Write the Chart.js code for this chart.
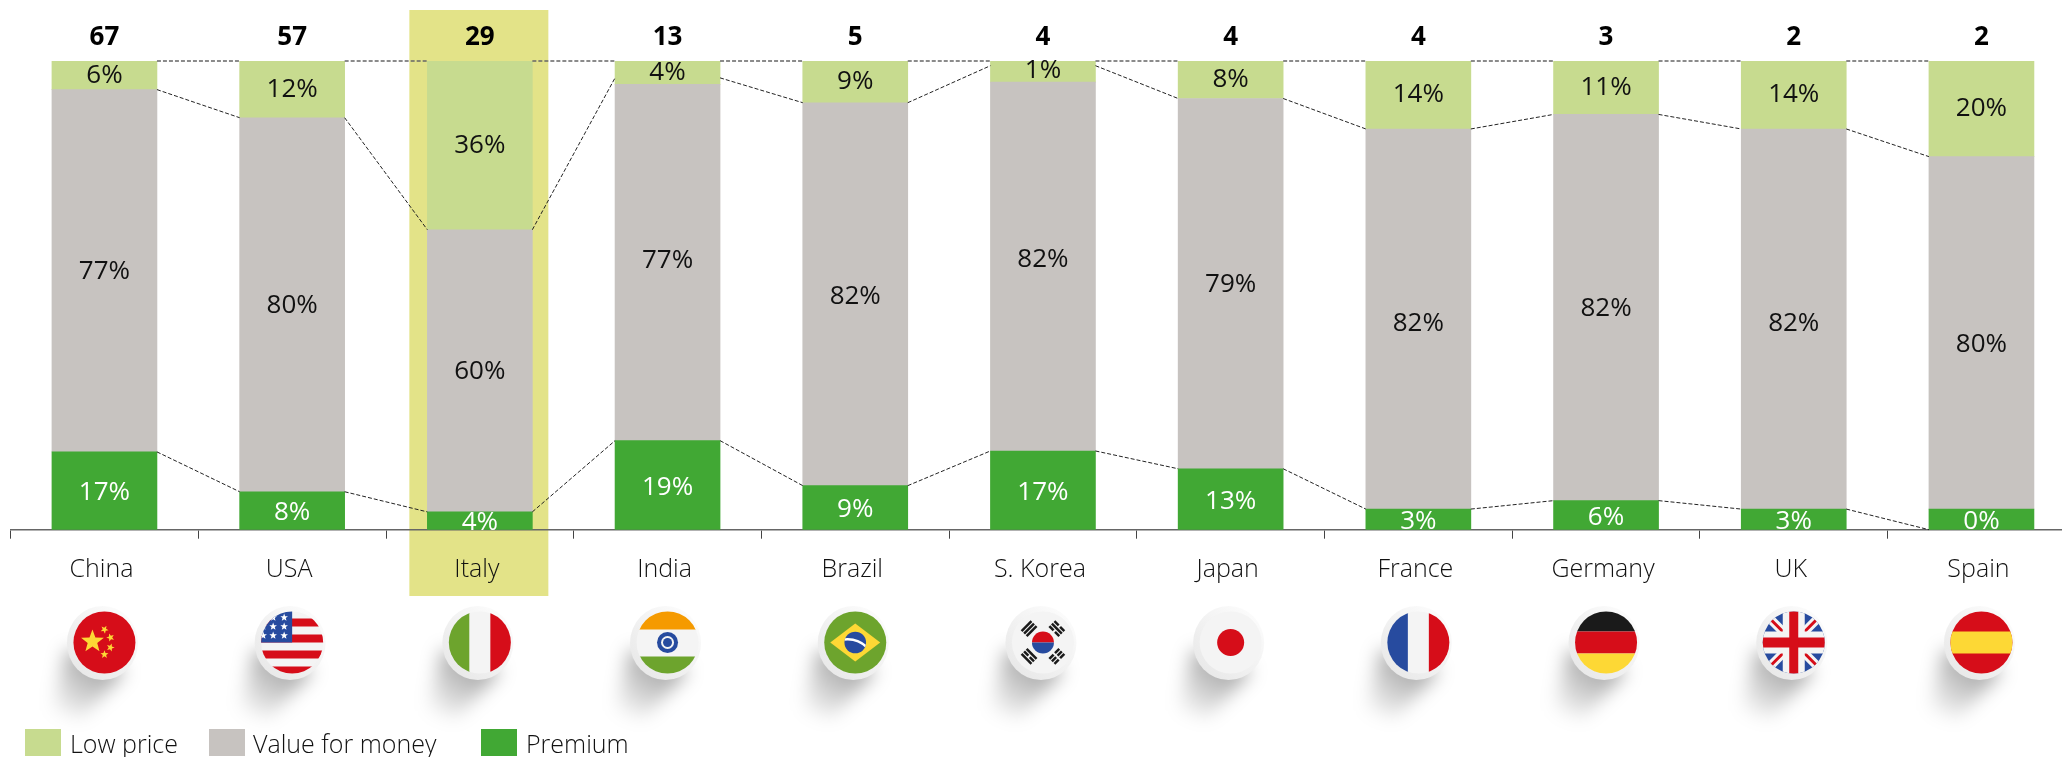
<!DOCTYPE html>
<html>
<head>
<meta charset="utf-8">
<title>Purchase drivers by country</title>
<script src="https://cdn.jsdelivr.net/npm/chart.js@4"></script>
<style>
  html, body { margin: 0; padding: 0; background: #fff; overflow: hidden; }
  #wrap { width: 2062px; height: 757px; overflow: hidden; }
</style>
</head>
<body>
<div id="wrap"><canvas id="chart" width="2100" height="757"></canvas></div>
<script>
const countries = ['China', 'USA', 'Italy', 'India', 'Brazil', 'S. Korea', 'Japan', 'France', 'Germany', 'UK', 'Spain'];
const totals = [67, 57, 29, 13, 5, 4, 4, 4, 3, 2, 2];

// bar heights as they are drawn in the picture (small shares are drawn a bit taller)
const lowPrice = [6.1, 12.1, 36, 5, 8.9, 4.7, 8, 14.5, 11.4, 14.5, 20.4];
const valueForMoney = [77.3, 79.8, 60.2, 76, 81.7, 78.7, 79, 81.1, 82.4, 81.1, 75.2];
const premium = [16.6, 8.1, 3.8, 19, 9.4, 16.8, 13, 4.4, 6.2, 4.4, 4.4];

// printed percentages
const lowPriceText = [6, 12, 36, 4, 9, 1, 8, 14, 11, 14, 20];
const valueText = [77, 80, 60, 77, 82, 82, 79, 82, 82, 82, 80];
const premiumText = [17, 8, 4, 19, 9, 17, 13, 3, 6, 3, 0];

// where the dashed connectors meet each bar (share from the top / from the bottom)
const lowPriceLink = [6.1, 12.1, 36, 3.6, 8.9, 1, 8, 14.5, 11.4, 14.5, 20.4];
const premiumLink = [16.6, 8.1, 3.8, 19, 9.4, 16.8, 13, 4.4, 6.2, 4.4, 0];

const highlighted = 'Italy';

const GREEN_LIGHT = '#c7db8f';
const GREY = '#c7c3c0';
const GREEN = '#41a834';
const HIGHLIGHT = '#e3e388';
const FONT = '"Open Sans"';
const BAR_WIDTH = 105;

const RED = '#d60d19', BLUE = '#274b9f', YELLOW = '#fdd835', FLAG_GREEN = '#6da42d', WHITE = '#f4f4f4', BLACK = '#1a1a1a', ORANGE = '#f59a00';

function star(ctx, x, y, r, rot) {
  ctx.beginPath();
  for (var i = 0; i < 10; i++) {
    var a = -Math.PI / 2 + (rot || 0) + i * Math.PI / 5;
    var d = i % 2 ? r * 0.42 : r;
    ctx.lineTo(x + Math.cos(a) * d, y + Math.sin(a) * d);
  }
  ctx.closePath();
  ctx.fill();
}

function rect(ctx, color, x, y, w, h) {
  ctx.fillStyle = color;
  ctx.fillRect(x, y, w, h);
}

function disc(ctx, color, x, y, r) {
  ctx.fillStyle = color;
  ctx.beginPath();
  ctx.arc(x, y, r, 0, Math.PI * 2);
  ctx.fill();
}

function trigram(ctx, angle, pattern) {
  ctx.save();
  ctx.rotate(angle);
  pattern.forEach(function (broken, i) {
    var y = -24.5 + i * 3.6;
    if (broken) {
      rect(ctx, BLACK, -7, y, 6, 2.5);
      rect(ctx, BLACK, 1, y, 6, 2.5);
    } else {
      rect(ctx, BLACK, -7, y, 14, 2.5);
    }
  });
  ctx.restore();
}

const flags = {
  'China': function (ctx) {
    rect(ctx, RED, -32, -32, 64, 64);
    ctx.fillStyle = YELLOW;
    star(ctx, -12, -1, 12);
    star(ctx, 0, -13, 4.2, 0.5);
    star(ctx, 6, -5, 4.2, 0.9);
    star(ctx, 6, 5, 4.2, 0.3);
    star(ctx, 0, 12, 4.2, 0);
  },
  'USA': function (ctx) {
    rect(ctx, WHITE, -32, -32, 64, 64);
    [-24, -8, 8, 24].forEach(function (y) { rect(ctx, RED, -32, y, 64, 8); });
    rect(ctx, BLUE, -32, -32, 32, 32);
    ctx.fillStyle = '#fff';
    [-25, -16, -7].forEach(function (y) {
      [-19, -8].forEach(function (x) { star(ctx, x, y, 4); });
    });
    star(ctx, -29, -7, 4);
    star(ctx, -29, -16, 4);
  },
  'Italy': function (ctx) {
    rect(ctx, FLAG_GREEN, -32, -32, 22, 64);
    rect(ctx, WHITE, -10.5, -32, 21, 64);
    rect(ctx, RED, 10.5, -32, 22, 64);
  },
  'India': function (ctx) {
    rect(ctx, WHITE, -32, -32, 64, 64);
    rect(ctx, ORANGE, -32, -32, 64, 19);
    rect(ctx, FLAG_GREEN, -32, 14, 64, 18);
    disc(ctx, BLUE, 0, 0, 10.5);
    disc(ctx, WHITE, 0, 0, 6.5);
    disc(ctx, BLUE, 0, 0, 4.5);
  },
  'Brazil': function (ctx) {
    rect(ctx, FLAG_GREEN, -32, -32, 64, 64);
    ctx.fillStyle = YELLOW;
    ctx.beginPath();
    ctx.moveTo(-25, 0);
    ctx.lineTo(0, -19);
    ctx.lineTo(25, 0);
    ctx.lineTo(0, 19);
    ctx.closePath();
    ctx.fill();
    disc(ctx, BLUE, 0, 0, 10.8);
    ctx.save();
    ctx.beginPath();
    ctx.arc(0, 0, 10.8, 0, Math.PI * 2);
    ctx.clip();
    ctx.strokeStyle = '#fff';
    ctx.lineWidth = 2.5;
    ctx.beginPath();
    ctx.moveTo(-12, -3);
    ctx.quadraticCurveTo(2, -5, 12, 5);
    ctx.stroke();
    ctx.restore();
  },
  'S. Korea': function (ctx) {
    rect(ctx, WHITE, -32, -32, 64, 64);
    ctx.fillStyle = RED;
    ctx.beginPath();
    ctx.arc(0, 0, 11, Math.PI, 0);
    ctx.fill();
    ctx.fillStyle = BLUE;
    ctx.beginPath();
    ctx.arc(0, 0, 11, 0, Math.PI);
    ctx.fill();
    trigram(ctx, -Math.PI / 4, [false, false, false]);
    trigram(ctx, Math.PI / 4, [true, false, true]);
    trigram(ctx, -3 * Math.PI / 4, [false, true, false]);
    trigram(ctx, 3 * Math.PI / 4, [true, true, true]);
  },
  'Japan': function (ctx) {
    rect(ctx, WHITE, -32, -32, 64, 64);
    disc(ctx, RED, 0, 0, 13.5);
  },
  'France': function (ctx) {
    rect(ctx, BLUE, -32, -32, 22, 64);
    rect(ctx, WHITE, -10.5, -32, 21, 64);
    rect(ctx, RED, 10.5, -32, 22, 64);
  },
  'Germany': function (ctx) {
    rect(ctx, BLACK, -32, -32, 64, 21);
    rect(ctx, RED, -32, -11, 64, 22);
    rect(ctx, YELLOW, -32, 11, 64, 21);
  },
  'UK': function (ctx) {
    rect(ctx, BLUE, -32, -32, 64, 64);
    ctx.lineCap = 'butt';
    ctx.strokeStyle = WHITE;
    ctx.lineWidth = 9;
    ctx.beginPath();
    ctx.moveTo(-32, -32); ctx.lineTo(32, 32);
    ctx.moveTo(32, -32); ctx.lineTo(-32, 32);
    ctx.stroke();
    ctx.strokeStyle = RED;
    ctx.lineWidth = 3;
    ctx.beginPath();
    ctx.moveTo(-32, -32); ctx.lineTo(32, 32);
    ctx.moveTo(32, -32); ctx.lineTo(-32, 32);
    ctx.stroke();
    rect(ctx, WHITE, -32, -11, 64, 22);
    rect(ctx, WHITE, -11, -32, 22, 64);
    rect(ctx, RED, -32, -5, 64, 10);
    rect(ctx, RED, -4.5, -32, 9, 64);
  },
  'Spain': function (ctx) {
    rect(ctx, RED, -32, -32, 64, 64);
    rect(ctx, YELLOW, -32, -11, 64, 22);
  }
};

function drawBadge(ctx, name, cx, cy) {
  ctx.save();
  // soft shadow falling to the lower left
  ctx.filter = 'blur(9px)';
  var shade = ctx.createLinearGradient(cx - 6, cy + 30, cx - 42, cy + 80);
  shade.addColorStop(0, 'rgba(0,0,0,0.32)');
  shade.addColorStop(1, 'rgba(0,0,0,0)');
  ctx.fillStyle = shade;
  ctx.beginPath();
  ctx.moveTo(cx - 38, cy + 6);
  ctx.lineTo(cx + 22, cy + 28);
  ctx.lineTo(cx - 24, cy + 76);
  ctx.lineTo(cx - 52, cy + 68);
  ctx.closePath();
  ctx.fill();
  ctx.restore();

  ctx.save();
  var ring = ctx.createLinearGradient(cx - 30, cy + 30, cx + 24, cy - 30);
  ring.addColorStop(0, '#e8e8e8');
  ring.addColorStop(1, '#fcfcfc');
  ctx.fillStyle = ring;
  ctx.beginPath();
  ctx.ellipse(cx - 2, cy + 0.5, 35.5, 37, 0, 0, Math.PI * 2);
  ctx.fill();

  ctx.translate(cx, cy);
  ctx.beginPath();
  ctx.arc(0, 0, 31, 0, Math.PI * 2);
  ctx.clip();
  flags[name](ctx);
  ctx.restore();
}

const chartOverlay = {
  id: 'chartOverlay',
  beforeDraw: function (chart) {
    var ctx = chart.ctx, x = chart.scales.x;
    var cx = x.getPixelForValue(countries.indexOf(highlighted));
    ctx.fillStyle = HIGHLIGHT;
    ctx.fillRect(cx - 70.5, 10, 139, 586);
  },
  afterDatasetsDraw: function (chart) {
    var ctx = chart.ctx, x = chart.scales.x, y = chart.scales.y;
    var half = BAR_WIDTH / 2;

    ctx.save();
    function link(i, fromVal, toVal, color, width) {
      ctx.strokeStyle = color;
      ctx.lineWidth = width;
      ctx.beginPath();
      ctx.moveTo(x.getPixelForValue(i) + half, y.getPixelForValue(fromVal));
      ctx.lineTo(x.getPixelForValue(i + 1) - half, y.getPixelForValue(toVal));
      ctx.stroke();
    }
    ctx.setLineDash([4, 2]);
    for (var i = 0; i < countries.length - 1; i++) {
      link(i, 100, 100, '#666', 1.5);
      link(i, 100 - lowPriceLink[i], 100 - lowPriceLink[i + 1], '#222', 1);
      link(i, premiumLink[i], premiumLink[i + 1], '#222', 1);
    }
    ctx.restore();

    ctx.textAlign = 'center';
    ctx.textBaseline = 'middle';
    ctx.font = '26px ' + FONT;
    chart.data.datasets.forEach(function (ds, d) {
      var bars = chart.getDatasetMeta(d).data;
      ctx.fillStyle = ds.textColor;
      bars.forEach(function (bar, i) {
        var mid = (bar.y + bar.base) / 2;
        if (ds.label === 'Premium') {
          mid += 2;
        }
        if (ds.label === 'Value for money') {
          // the middle label sits in the middle of the real share, not the drawn block
          mid = (y.getPixelForValue(100 - lowPriceLink[i]) + y.getPixelForValue(Math.min(premiumLink[i], premiumText[i]))) / 2 + 1;
        }
        ctx.fillText(ds.printed[i] + '%', bar.x, mid);
      });
    });
    ctx.font = 'bold 26px ' + FONT;
    ctx.fillStyle = '#000';
    totals.forEach(function (t, i) {
      ctx.fillText(t, x.getPixelForValue(i), 38);
    });
  },
  afterDraw: function (chart) {
    var ctx = chart.ctx, x = chart.scales.x;
    countries.forEach(function (name, i) {
      drawBadge(ctx, name, x.getPixelForValue(i), 642.5);
    });

    // legend keeps the source order: low price first
    var boxX = [25, 209, 481], textX = [70, 253, 526];
    ctx.textAlign = 'left';
    ctx.textBaseline = 'middle';
    ctx.font = '300 25px ' + FONT;
    chart.data.datasets.slice().reverse().forEach(function (ds, i) {
      ctx.fillStyle = ds.backgroundColor;
      ctx.fillRect(boxX[i], 729, 36, 27);
      ctx.fillStyle = '#111';
      ctx.fillText(ds.label, textX[i], 746);
    });
  }
};

new Chart(document.getElementById('chart'), {
  type: 'bar',
  data: {
    labels: countries,
    datasets: [
      { label: 'Premium', data: premium, printed: premiumText, textColor: '#fff', backgroundColor: GREEN },
      { label: 'Value for money', data: valueForMoney, printed: valueText, textColor: '#111', backgroundColor: GREY },
      { label: 'Low price', data: lowPrice, printed: lowPriceText, textColor: '#111', backgroundColor: GREEN_LIGHT }
    ]
  },
  options: {
    responsive: false,
    animation: false,
    barThickness: BAR_WIDTH,
    layout: { padding: { left: 10.6, right: 24.7, top: 61, bottom: 0 } },
    plugins: { legend: { display: false }, tooltip: { enabled: false } },
    scales: {
      x: {
        stacked: true,
        afterFit: function (axis) { axis.height = 227.3; },
        grid: { drawOnChartArea: false, drawTicks: true, tickLength: 9, color: '#444' },
        border: { color: '#666', width: 1.5 },
        ticks: {
          autoSkip: false,
          maxRotation: 0,
          padding: 16,
          labelOffset: -3,
          color: '#111',
          font: { family: FONT, size: 25, weight: '300' }
        }
      },
      y: { stacked: true, display: false, min: 0, max: 100 }
    }
  },
  plugins: [chartOverlay]
});
</script>
</body>
</html>
